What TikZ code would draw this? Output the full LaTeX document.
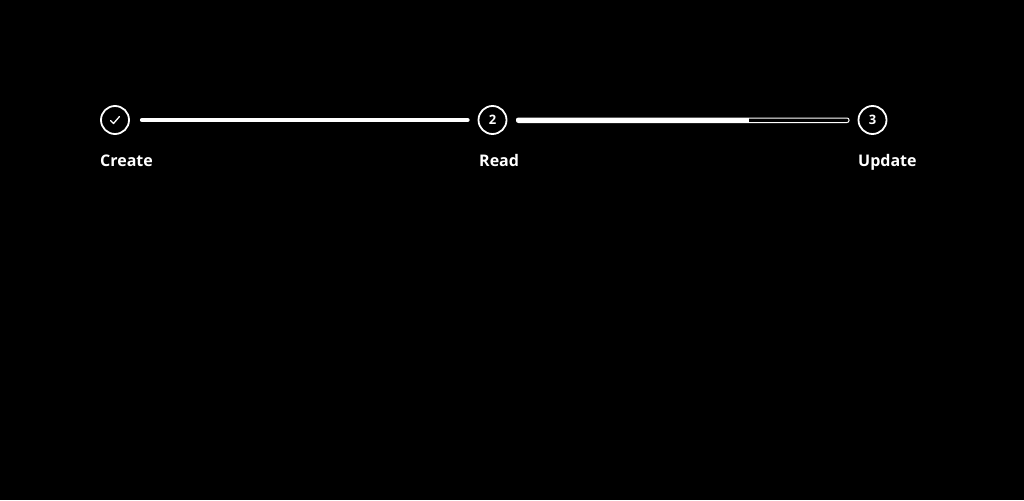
\documentclass[tikz,border=0pt]{standalone}
\usepackage{fontspec}
\setmainfont{Open Sans}
\begin{document}
\begin{tikzpicture}[x=1pt,y=-1pt,
  stepcirc/.style={circle,draw=white,line width=1.8pt,minimum size=28pt,inner sep=0pt,text=white,font=\bfseries\fontsize{13}{15}\selectfont},
  steplabel/.style={anchor=base west,text=white,inner sep=0pt,font=\bfseries\fontsize{16}{19}\selectfont},
  bar/.style={white,line width=4pt,line cap=round}]
\fill[black] (0,0) rectangle (1024,500);
\useasboundingbox (0,0) rectangle (1024,500);
\node[stepcirc] (s1) at (115,120) {};
\draw[white,line width=1.3pt,line cap=round,line join=round] (110.5,120.5) -- (113.5,123.5) -- (119.5,116.5);
\node[stepcirc] (s2) at (492.5,120) {2};
\node[stepcirc] (s3) at (872.5,120) {3};
\node[steplabel] (l1) at (100,166) {Create};
\node[steplabel] (l2) at (479,166) {Read};
\node[steplabel] (l3) at (858,166) {Update};
\draw[bar,shorten <=12pt,shorten >=10pt] (s1.east) -- (s2.west);
\coordinate (a2) at (518,120);
\coordinate (m2) at (749,120);
\draw[white,line width=1pt,rounded corners=2pt] (516.5,118) rectangle (849,122.5);
\draw[bar,line cap=butt] (a2) -- (m2);
\fill[white] (a2) circle (2pt);
\end{tikzpicture}
\end{document}
